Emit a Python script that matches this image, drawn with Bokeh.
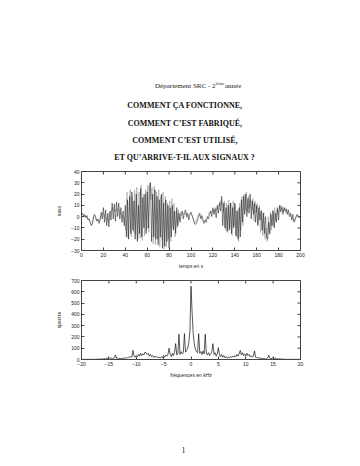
from bokeh.plotting import figure
from bokeh.layouts import column
from bokeh.models import Range1d, FixedTicker
from bokeh.core.properties import value
from bokeh.embed import file_html
from bokeh.resources import INLINE

# ---------------- data ----------------
header_line = ["Département SRC - 2", "ième", " année"]
title_lines = ["COMMENT ÇA FONCTIONNE,", "COMMENT C’EST FABRIQUÉ,",
               "COMMENT C’EST UTILISÉ,", "ET QU’ARRIVE-T-IL AUX SIGNAUX ?"]
page_number = "1"

time_s = list(range(0, 201))
saxo = [1, 3, 0, 2, -1, 1, -3, -2, -5, -8, -6,
        0, 2, -1, -4, -2, -6, -3, 4, -2, 8,
        -5, 6, -8, 3, -9, 5, -3, 12, -2, 11,
        -4, 13, 0, 12, -2, 8, -5, 5, -8, 10,
        -18, 15, -20, 18, -15, 22, -12, 14, -20, 20,
        -22, 10, -15, 25, -18, 17, -10, 20, -15, 22,
        -10, 25, 30, -22, 20, -18, 24, -20, 18, -25,
        15, -18, 20, -28, 12, -26, 15, -22, 10, -28,
        8, -18, 10, -12, 5, -15, 8, -8, 3, -5,
        2, 5, -2, 4, 6, 0, 3, -3, 2, 4,
        1, -2, -5, -7, -6, -3, 0, 3, -2, 1,
        -3, -6, -3, -5, 0, -2, 2, 5, 0, 8,
        2, 7, -1, 10, 3, 12, 5, 18, -8, 12,
        -10, 8, -13, 10, -12, 12, -15, 8, -10, 12,
        -17, 5, -20, 8, -18, 15, -5, 18, 2, 20,
        0, 16, 3, 20, -2, 14, 2, 12, -5, 10,
        -8, 8, -3, 5, -12, 3, -15, 0, -18, -20,
        -5, -15, 2, -8, 5, -10, 3, -5, 8, -3,
        10, 4, 9, 2, 8, 5, 7, 2, 6, 0,
        3, -3, 2, -5, -3, 0, 2, 0, -1, 0]

# lighter trace, sampled half-way between the samples above
time_half_s = [t + 0.5 for t in range(0, 200)]
saxo_half = [2, 1, 1, 0, 0, -2, -2, -4, -7, -7,
             -3, 1, 0, -3, -3, -4, -4, 0, 1, 3,
             2, 0, -2, -3, -4, 2, 4, 5, 8, 5,
             6, 5, 7, 6, 5, 3, 2, 0, -2, -3,
             -12, 22, -19, 12, 24, -18, 18, -14, 24, -16,
             26, -20, 22, -19, 28, -21, 20, -17, 24, -12,
             28, -14, 30, 15, 26, -24, 27, -25, 22, -20,
             24, -27, 18, -20, 22, -29, 18, -27, 12, -20,
             14, -22, 16, -10, 12, -18, 5, -10, 6, -3,
             4, 1, 2, 3, 2, 4, -1, 0, 1, 3,
             2, 0, -4, -6, -4, -2, 2, 1, 0, -1,
             -4, -5, -4, -2, -1, 0, 4, 3, 4, 6,
             6, 4, 8, 6, 9, 10, 14, 10, 14, 4,
             14, -12, 12, -14, 15, -10, 12, -17, 14, -8,
             10, -18, 6, -22, 12, -12, 18, -8, 20, 5,
             22, 4, 18, 8, 15, 6, 16, -4, 14, 4,
             12, -6, 10, -14, 6, -17, 4, -20, -10, -22,
             0, -16, 4, -12, 6, -8, 8, -4, 6, 2,
             8, 10, 6, 7, 4, 8, 3, 6, 4, 2,
             1, 0, -1, -3, -4, -1, 1, 1, 0, -1]

freq_neg = [round(-20 + 0.2 * i, 1) for i in range(100)]
spec_neg = [1, 1, 1, 1, 1, 1, 1, 1, 1, 1,
            1, 2, 1, 2, 2, 3, 2, 4, 3, 6,
            4, 8, 5, 12, 8, 20, 10, 15, 6, 12,
            18, 40, 10, 14, 6, 10, 5, 12, 8, 14,
            10, 18, 12, 22, 20, 25, 22, 80, 30, 20,
            35, 25, 45, 30, 55, 35, 50, 40, 65, 60,
            45, 55, 30, 45, 25, 35, 18, 30, 20, 25,
            15, 20, 12, 25, 15, 35, 20, 40, 30, 48,
            100, 45, 25, 55, 35, 65, 141, 40, 50, 223,
            45, 70, 50, 60, 229, 65, 80, 100, 150, 250]
freq_pos = [round(0.2 * i, 1) for i in range(101)]
spec_pos = [650, 420, 230, 140, 90, 70, 60, 229, 55, 70,
            45, 75, 50, 223, 55, 40, 60, 35, 50, 70,
            140, 45, 60, 30, 50, 105, 40, 25, 45, 20,
            35, 15, 25, 12, 20, 15, 28, 18, 30, 20,
            35, 25, 45, 30, 55, 80, 40, 60, 35, 50,
            30, 55, 35, 45, 25, 35, 20, 30, 76, 20,
            15, 22, 10, 15, 8, 12, 6, 10, 5, 8,
            15, 38, 10, 6, 12, 18, 8, 12, 5, 8,
            4, 6, 3, 5, 2, 3, 2, 2, 1, 2,
            1, 1, 1, 1, 1, 1, 1, 1, 1, 1, 1]

t_ticks = [0, 20, 40, 60, 80, 100, 120, 140, 160, 180, 200]
saxo_ticks = [-30, -20, -10, 0, 10, 20, 30, 40]
f_ticks = [-20, -15, -10, -5, 0, 5, 10, 15, 20]
spec_ticks = [0, 100, 200, 300, 400, 500, 600, 700]

# ---------------- layout ----------------
SERIF = value("Liberation Serif")
SANS = "Liberation Sans"
LEFT, FRAME_W, RIGHT = 81, 219, 60
FRAME_H = 79
TICK_PX = 3
AXIS_COL = "#444"


def blank(top, h):
    # a text-only panel whose frame lines up with the plot frames;
    # its data coordinates are the page's pixel coordinates
    f = figure(frame_width=FRAME_W, frame_height=h,
               x_range=Range1d(LEFT, LEFT + FRAME_W), y_range=Range1d(top + h, top),
               x_axis_type=None, y_axis_type=None, title=None,
               toolbar_location=None, output_backend="svg",
               min_border_left=LEFT, min_border_right=RIGHT,
               min_border_top=0, min_border_bottom=0)
    f.grid.visible = False
    f.outline_line_color = None
    return f


head = blank(0, 165)
head.text(x=[215], y=[85], text=[header_line[0]], text_align="right",
          text_baseline="middle", text_font=SERIF, text_font_size="7px", text_color="#222")
head.text(x=[215.3], y=[83], text=[header_line[1]], text_align="left",
          text_baseline="middle", text_font=SERIF, text_font_size="4.5px", text_color="#222")
head.text(x=[224.5], y=[85], text=[header_line[2]], text_align="left",
          text_baseline="middle", text_font=SERIF, text_font_size="7px", text_color="#222")
head.text(x=[184.5] * 4, y=[105, 122.5, 140, 157], text=title_lines, text_align="center",
          text_baseline="middle", text_font=SERIF, text_font_size="8px",
          text_font_style="bold", text_color="#111")


def style_plot(p, xt, yt, xlabel, ylabel):
    p.xaxis.ticker = FixedTicker(ticks=xt)
    p.yaxis.ticker = FixedTicker(ticks=yt)
    p.xaxis.axis_label = xlabel
    p.yaxis.axis_label = ylabel
    for ax in list(p.xaxis) + list(p.yaxis):
        ax.major_tick_in = TICK_PX
        ax.major_tick_out = 0
        ax.minor_tick_line_color = None
        ax.axis_line_color = AXIS_COL
        ax.major_tick_line_color = AXIS_COL
        ax.major_label_text_font = SANS
        ax.major_label_text_font_size = "5px"
        ax.major_label_text_color = "#222"
        ax.major_label_standoff = 2
        ax.axis_label_text_font = SANS
        ax.axis_label_text_font_size = "5px"
        ax.axis_label_text_font_style = "normal"
        ax.axis_label_text_color = "#222"
        ax.axis_label_standoff = 3
    p.yaxis.axis_label_standoff = 6
    # ticks on the top and right edges of the box, drawn from the tick lists
    x0, x1 = p.x_range.start, p.x_range.end
    y0, y1 = p.y_range.start, p.y_range.end
    dy = (y1 - y0) * TICK_PX / FRAME_H
    dx = (x1 - x0) * TICK_PX / FRAME_W
    p.segment(x0=xt, x1=xt, y0=[y1] * len(xt), y1=[y1 - dy] * len(xt),
              line_color=AXIS_COL, line_width=1)
    p.segment(x0=[x1] * len(yt), x1=[x1 - dx] * len(yt), y0=yt, y1=yt,
              line_color=AXIS_COL, line_width=1)
    p.grid.visible = False
    p.outline_line_color = AXIS_COL


p1 = figure(frame_width=FRAME_W, frame_height=FRAME_H, x_range=Range1d(0, 200),
            y_range=Range1d(-30, 40), toolbar_location=None, output_backend="svg",
            min_border_left=LEFT, min_border_right=RIGHT, min_border_top=6, min_border_bottom=25)
p1.line(time_half_s, saxo_half, line_color="#8c8c8c", line_width=0.5)
p1.line(time_s, saxo, line_color="#111111", line_width=0.5)
style_plot(p1, t_ticks, saxo_ticks, "temps en s", "saxo")

p2 = figure(frame_width=FRAME_W, frame_height=FRAME_H, x_range=Range1d(-20, 20),
            y_range=Range1d(0, 700), toolbar_location=None, output_backend="svg",
            min_border_left=LEFT, min_border_right=RIGHT, min_border_top=5, min_border_bottom=17)
p2.line(freq_neg + freq_pos, spec_neg + spec_pos, line_color="#111111", line_width=0.7)
style_plot(p2, f_ticks, spec_ticks, "fréquences en kHz", "spectre")

foot = blank(376, 90)
foot.text(x=[183], y=[445], text=[page_number], text_align="center", text_baseline="middle",
          text_font=SERIF, text_font_size="8px", text_color="#222")

layout = column(head, p1, p2, foot, spacing=0)
open("out.html", "w").write(file_html(layout, INLINE))
